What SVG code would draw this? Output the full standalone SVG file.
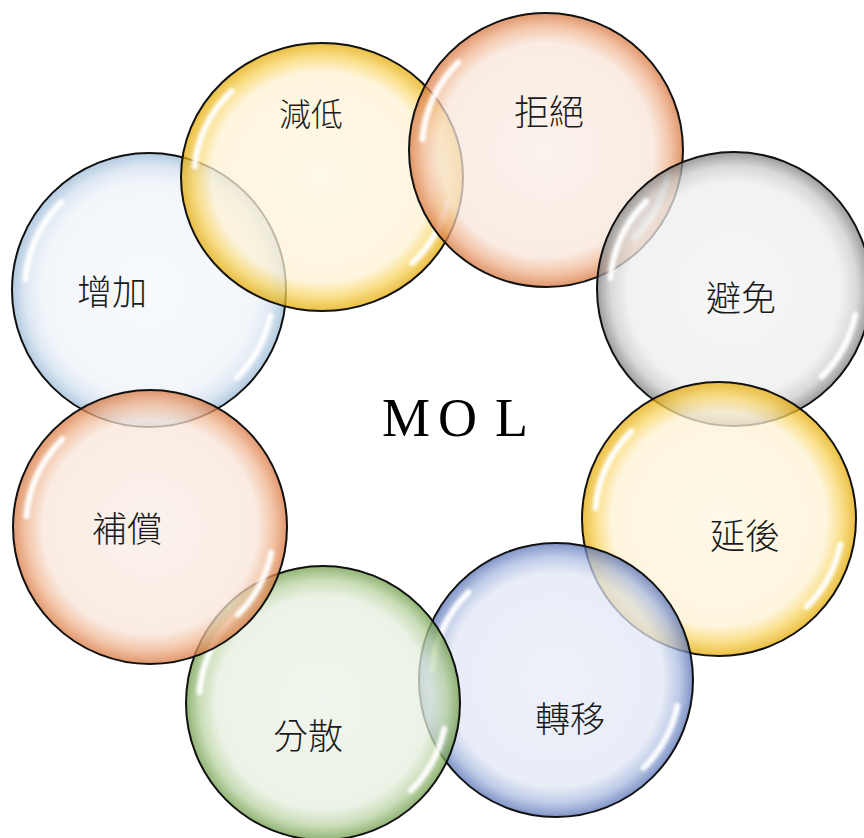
<svg xmlns="http://www.w3.org/2000/svg" xmlns:xlink="http://www.w3.org/1999/xlink" width="864" height="838" viewBox="0 0 864 838">
<style>
.bub{stroke:#111;stroke-width:2;fill-opacity:0.74}
.lbl{font-family:"Noto Sans CJK TC","Noto Sans CJK JP",sans-serif;font-size:35px;fill:#1a1a1a;text-anchor:middle;font-weight:300}
.mol{font-family:"Liberation Serif","Times New Roman",serif;font-size:54px;fill:#000}
</style>
<defs>
<radialGradient id="gY"><stop offset="0" stop-color="#FFF6DF"/><stop offset="0.78" stop-color="#FEF2D4"/><stop offset="0.9" stop-color="#F8D460"/><stop offset="1" stop-color="#E2A800"/></radialGradient>
<radialGradient id="gO"><stop offset="0" stop-color="#FAEEE7"/><stop offset="0.78" stop-color="#F8E5D9"/><stop offset="0.9" stop-color="#EFB38D"/><stop offset="1" stop-color="#D6733A"/></radialGradient>
<radialGradient id="gG"><stop offset="0" stop-color="#F3F3F3"/><stop offset="0.78" stop-color="#EDEDED"/><stop offset="0.9" stop-color="#CACACA"/><stop offset="1" stop-color="#7A7A7A"/></radialGradient>
<radialGradient id="gB"><stop offset="0" stop-color="#E8ECF7"/><stop offset="0.78" stop-color="#E0E6F4"/><stop offset="0.9" stop-color="#A8B8E0"/><stop offset="1" stop-color="#536FB2"/></radialGradient>
<radialGradient id="gN"><stop offset="0" stop-color="#EDF3E8"/><stop offset="0.78" stop-color="#E4EEDD"/><stop offset="0.9" stop-color="#B6D09D"/><stop offset="1" stop-color="#6A9944"/></radialGradient>
<radialGradient id="gL"><stop offset="0" stop-color="#F5F8FC"/><stop offset="0.78" stop-color="#EEF3F9"/><stop offset="0.9" stop-color="#D2E0EF"/><stop offset="1" stop-color="#98B8D6"/></radialGradient>
<filter id="blur" x="-20%" y="-20%" width="140%" height="140%"><feGaussianBlur stdDeviation="1.6"/></filter>
<g id="hl" fill="none" stroke="#fff" stroke-linecap="round" stroke-width="6" stroke-opacity="0.95" filter="url(#blur)">
<path d="M-123.5,-10.8 A124,124 0 0 1 -87.7,-87.7"/>
<path d="M121.3,25.8 A124,124 0 0 1 87.7,87.7"/>
</g>
</defs>

<g id="node-zengjia">
<circle class="bub" cx="149" cy="290" r="137" fill="url(#gL)"/>
<use xlink:href="#hl" href="#hl" transform="translate(149,290)"/>
<text class="lbl" x="112" y="305">增加</text>
</g>
<g id="node-jiandi">
<ellipse class="bub" cx="322" cy="177" rx="141" ry="134" fill="url(#gY)"/>
<use xlink:href="#hl" href="#hl" transform="translate(322,177) scale(1.03,0.98)"/>
<text class="lbl" x="311" y="126" style="font-size:32px">減低</text>
</g>
<g id="node-jujue">
<circle class="bub" cx="546" cy="150" r="137" fill="url(#gO)"/>
<use xlink:href="#hl" href="#hl" transform="translate(546,150)"/>
<text class="lbl" x="549" y="125">拒絕</text>
</g>
<g id="node-bimian">
<circle class="bub" cx="734" cy="289" r="137" fill="url(#gG)"/>
<use xlink:href="#hl" href="#hl" transform="translate(734,289)"/>
<text class="lbl" x="741" y="311">避免</text>
</g>
<g id="node-yanhou">
<circle class="bub" cx="719" cy="519" r="137" fill="url(#gY)"/>
<use xlink:href="#hl" href="#hl" transform="translate(719,519)"/>
<text class="lbl" x="745" y="549">延後</text>
</g>
<g id="node-zhuanyi">
<circle class="bub" cx="556" cy="680" r="137" fill="url(#gB)"/>
<use xlink:href="#hl" href="#hl" transform="translate(556,680)"/>
<text class="lbl" x="570" y="732">轉移</text>
</g>
<g id="node-fensan">
<circle class="bub" cx="323" cy="703" r="137" fill="url(#gN)"/>
<use xlink:href="#hl" href="#hl" transform="translate(323,703)"/>
<text class="lbl" x="308" y="749">分散</text>
</g>
<g id="node-buchang">
<circle class="bub" cx="150" cy="527" r="137" fill="url(#gO)"/>
<use xlink:href="#hl" href="#hl" transform="translate(150,527)"/>
<text class="lbl" x="127" y="542">補償</text>
</g>

<g id="node-mol">
<text class="mol" x="382 438 495" y="436">MOL</text>
</g>
</svg>
